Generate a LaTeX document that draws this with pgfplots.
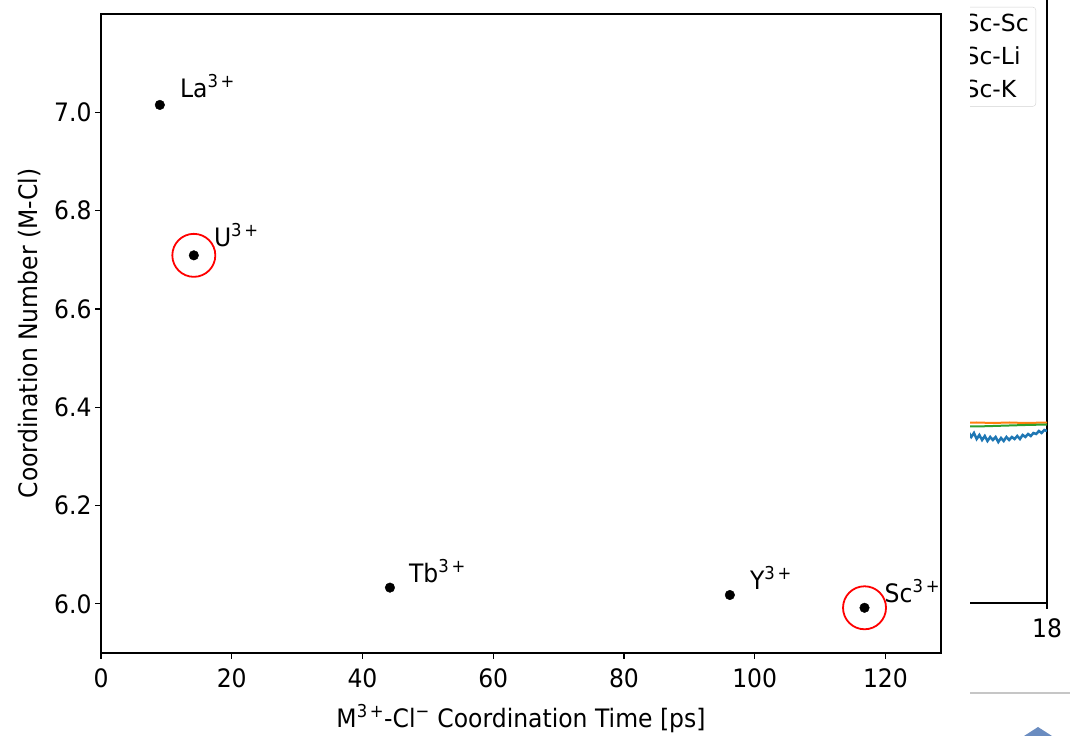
\documentclass[border=0pt]{standalone}
\usepackage{pgfplots}
\pgfplotsset{compat=1.18}
\usepackage{fontspec}
\setmainfont{DejaVu Sans}
\newcommand{\lbl}{\fontsize{23.5pt}{28pt}\selectfont}
\newcommand{\sps}[1]{\textsuperscript{#1}}
\definecolor{mplblue}{HTML}{1F77B4}
\definecolor{mplorange}{HTML}{FF7F0E}
\definecolor{mplgreen}{HTML}{2CA02C}
\definecolor{shapeblue}{HTML}{6A8CC0}
\begin{document}
\begin{tikzpicture}[x=1pt,y=1pt]
\useasboundingbox (0,0) rectangle (1076,736);
% main axis
\begin{axis}[
  at={(101pt,83pt)}, anchor=south west,
  width=840pt, height=639pt, scale only axis,
  xmin=0, xmax=128.5, ymin=5.9, ymax=7.2,
  xtick={0,20,40,60,80,100,120},
  ytick={6.0,6.2,6.4,6.6,6.8,7.0},
  yticklabel style={/pgf/number format/.cd,fixed,fixed zerofill,precision=1},
  /pgf/number format/assume math mode=true,
  tick pos=left, tick align=outside,
  major tick length=6pt,
  every tick/.style={black, line width=1.2pt},
  axis line style={line width=1.5pt},
  tick label style={font=\lbl, yscale=1.08},
  xticklabel style={yshift=-5pt},
  label style={font=\lbl, yscale=1.08},
  xlabel={M\sps{3\,+}-Cl\sps{−} Coordination Time [ps]},
  ylabel={Coordination Number (M-Cl)},
  xlabel style={yshift=-9pt},
  ylabel style={yshift=6pt},
  clip=false,
]
\addplot[only marks, mark=*, mark size=4.8pt, black] coordinates {
  (9.0,7.015) (14.2,6.709) (44.2,6.033) (96.2,6.018) (116.8,5.992)
};
\addplot[only marks, mark=o, mark size=21.5pt, red, line width=1.8pt] coordinates {
  (14.2,6.709) (116.8,5.992)
};
\node[anchor=base west, inner sep=0pt, font=\lbl, yscale=1.08, xshift=20pt, yshift=7pt] at (axis cs:9.0,7.015) {La\sps{3\,+}};
\node[anchor=base west, inner sep=0pt, font=\lbl, yscale=1.08, xshift=20pt, yshift=8pt] at (axis cs:14.2,6.709) {U\sps{3\,+}};
\node[anchor=base west, inner sep=0pt, font=\lbl, yscale=1.08, xshift=19pt, yshift=5pt] at (axis cs:44.2,6.033) {Tb\sps{3\,+}};
\node[anchor=base west, inner sep=0pt, font=\lbl, yscale=1.08, xshift=20pt, yshift=5pt] at (axis cs:96.2,6.018) {Y\sps{3\,+}};
\node[anchor=base west, inner sep=0pt, font=\lbl, yscale=1.08, xshift=20pt, yshift=5pt] at (axis cs:116.8,5.992) {Sc\sps{3\,+}};
\end{axis}
% partial neighbouring chart
\begin{scope}
\clip (970,0) rectangle (1076,736);
\begin{axis}[
  at={(560pt,133pt)}, anchor=south west,
  width=487pt, height=623pt, scale only axis,
  xmin=0, xmax=18, ymin=0, ymax=623,
  xtick={18}, ytick=\empty,
  /pgf/number format/assume math mode=true,
  tick pos=left, tick align=outside,
  major tick length=6pt,
  every tick/.style={black, line width=1.2pt},
  axis line style={line width=1.5pt},
  tick label style={font=\lbl, yscale=1.08},
  xticklabel style={yshift=-5pt},
  legend style={at={(0.9774,0.9567)}, anchor=north east, draw=gray!35, rounded corners=3pt,
     font=\lbl, row sep=10pt, inner sep=5pt, fill=white},
  legend cell align=left,
]
\addplot[mplblue, line width=2.5pt] coordinates {
  (14.8,172) (15.0,168) (15.1,171) (15.2,166) (15.3,170) (15.4,164) (15.5,168)
  (15.6,163) (15.7,167) (15.8,162) (15.9,166) (16.0,163) (16.1,166) (16.2,161)
  (16.3,165) (16.4,162) (16.5,166) (16.6,163) (16.7,166) (16.8,164) (16.9,167)
  (17.0,164) (17.1,168) (17.2,166) (17.3,169) (17.4,167) (17.5,170) (17.6,169)
  (17.7,172) (17.8,170) (17.9,173) (18.0,172)
};
\addlegendentry{Sc-Sc}
\addplot[mplorange, line width=2pt] coordinates {
  (14.8,180) (15.4,180.5) (16.0,180) (16.6,180.5) (17.2,180) (18.0,180.5)
};
\addlegendentry{Sc-Li}
\addplot[mplgreen, line width=2pt] coordinates {
  (14.8,177) (15.4,176.5) (16.0,177) (16.6,177.5) (17.2,178) (18.0,178.5)
};
\addlegendentry{Sc-K}
\end{axis}
\end{scope}
\draw[gray!45, line width=1.2pt] (970,43) -- (1070,43);
\fill[shapeblue] (1024,0) -- (1038,9) -- (1052,0) -- cycle;
\end{tikzpicture}
\end{document}
